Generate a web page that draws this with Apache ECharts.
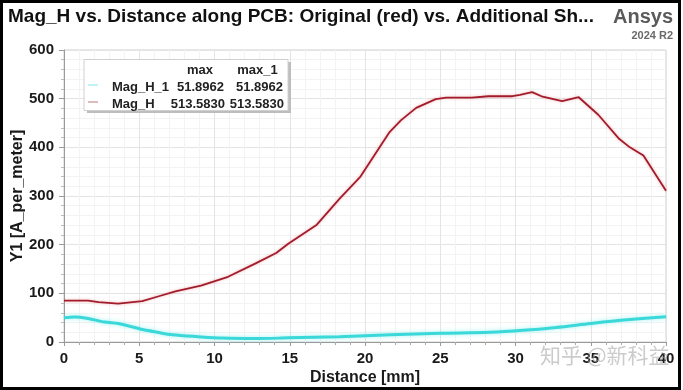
<!DOCTYPE html>
<html>
<head>
<meta charset="utf-8">
<script src="https://cdn.jsdelivr.net/npm/echarts@6/dist/echarts.min.js"></script>
<style>
html,body{margin:0;padding:0;background:#fff;}
#chart{width:683px;height:390px;}
</style>
</head>
<body>
<div id="chart"></div>
<script>
// Data
const redDistance = [0, 1.6, 2.3, 3.6, 5.2, 6.3, 7.4, 9.1, 10.9, 12.7, 14.1, 14.9, 16.8, 18.3, 19.7, 21.6, 22.4, 23.4, 24.7, 25.4, 27.1, 28.2, 29.8, 30.3, 31.1, 31.8, 33.1, 34.2, 35.5, 36.9, 37.6, 38.5, 40];
const redMagH =     [85, 85, 82, 79, 84, 94, 104, 116, 134, 161, 183, 202, 241, 294, 340, 430, 456, 481, 499, 502, 502, 505, 505, 508, 513.583, 504, 495, 503, 467, 417, 400, 383, 311];
const cyanDistance = [0, 0.7, 1.5, 2.7, 3.6, 4.3, 5.3, 6.2, 7.2, 8.9, 10.5, 12.7, 14.9, 18.3, 21.7, 25, 28.3, 30.5, 32.7, 35, 37.2, 40];
const cyanMagH =     [50, 51.5, 49, 41, 38, 33, 25, 20, 15, 11, 8, 7, 8.5, 11, 15, 18, 20, 24, 30, 38, 45, 51.8962];
const xTicks = [0, 40, 5];
const yTicks = [0, 600, 100];
const titleText = 'Mag_H vs. Distance along PCB: Original (red) vs. Additional Sh...';
const seriesNames = ['Mag_H_1', 'Mag_H'];
const legendHeaders = ['max', 'max_1'];

const FONT = '"Liberation Sans", Arial, sans-serif';
const pair = (xs, ys) => xs.map((x, i) => [x, ys[i]]);
const maxOf = a => Math.max.apply(null, a).toFixed(4);
const cyanMax = maxOf(cyanMagH), redMax = maxOf(redMagH);

const chart = echarts.init(document.getElementById('chart'));
const lbl = {fontFamily: FONT, fontWeight: 'bold', fontSize: 15, color: '#1a1a1a'};
const tcell = (txt, x, y, align) => ({type: 'text', x: x, y: y, z: 12,
  style: {text: txt, align: align, verticalAlign: 'middle', fontFamily: FONT, fontWeight: 'bold', fontSize: 13, fill: '#222'}});

chart.setOption({
  animation: false,
  backgroundColor: '#fff',
  grid: {left: 64, right: 17, top: 50, bottom: 48, outerBoundsMode: 'none', containLabel: false,
         show: true, borderColor: '#cfcfcf', borderWidth: 1},
  xAxis: {
    type: 'value', min: xTicks[0], max: xTicks[1], interval: xTicks[2],
    name: 'Distance [mm]', nameLocation: 'middle', nameGap: 28, nameMoveOverlap: false,
    nameTextStyle: {fontFamily: FONT, fontWeight: 'bold', fontSize: 16, color: '#1a1a1a'},
    axisLine: {lineStyle: {color: '#9a9a9a'}},
    axisTick: {show: true, length: 4, lineStyle: {color: '#9a9a9a'}},
    minorTick: {show: true, splitNumber: 5, length: 3, lineStyle: {color: '#aaa'}},
    axisLabel: Object.assign({margin: 9}, lbl),
    splitLine: {lineStyle: {color: '#e4e4e4'}},
    minorSplitLine: {show: true, lineStyle: {color: '#f3f3f3'}}
  },
  yAxis: {
    type: 'value', min: yTicks[0], max: yTicks[1], interval: yTicks[2],
    name: 'Y1 [A_per_meter]', nameLocation: 'middle', nameGap: 38, nameRotate: 90, nameMoveOverlap: false,
    nameTextStyle: {fontFamily: FONT, fontWeight: 'bold', fontSize: 16, color: '#1a1a1a'},
    axisLine: {show: true, lineStyle: {color: '#9a9a9a'}},
    axisTick: {show: true, length: 5, lineStyle: {color: '#9a9a9a'}},
    minorTick: {show: true, splitNumber: 5, length: 3, lineStyle: {color: '#bbb'}},
    axisLabel: Object.assign({margin: 10}, lbl),
    splitLine: {lineStyle: {color: '#e4e4e4'}},
    minorSplitLine: {show: true, splitNumber: 2, lineStyle: {color: '#f3f3f3'}}
  },
  series: [
    {
      name: seriesNames[0], type: 'line', data: pair(cyanDistance, cyanMagH),
      showSymbol: false, smooth: 0.3,
      lineStyle: {color: '#3ad8d8', width: 3, shadowColor: 'rgba(100,235,235,0.6)', shadowBlur: 4},
      z: 3
    },
    {
      name: seriesNames[1], type: 'line', data: pair(redDistance, redMagH),
      showSymbol: false,
      lineStyle: {color: '#a31c2b', width: 1.8, shadowColor: 'rgba(230,110,120,0.5)', shadowBlur: 3},
      z: 4
    }
  ],
  graphic: [
    {type: 'text', left: 8, top: 7, style: {text: titleText, fontFamily: FONT, fontWeight: 'bold', fontSize: 19, fill: '#111'}},
    {type: 'text', right: 10, top: 7, style: {text: 'Ansys', fontFamily: FONT, fontWeight: 'bold', fontSize: 20, fill: '#5a5a5a'}},
    {type: 'text', right: 10, top: 30, style: {text: '2024 R2', fontFamily: FONT, fontWeight: 'bold', fontSize: 11, fill: '#6a6a6a'}},
    // legend table
    {type: 'rect', shape: {x: 87, y: 62, width: 204, height: 51}, style: {fill: '#bdbdbd'}, z: 10},
    {type: 'rect', shape: {x: 84, y: 59.5, width: 204, height: 51}, style: {fill: '#fff', stroke: '#d0d0d0', lineWidth: 1}, z: 11},
    tcell(legendHeaders[0], 200, 70, 'center'),
    tcell(legendHeaders[1], 257.5, 70, 'center'),
    {type: 'line', shape: {x1: 88, y1: 85, x2: 98, y2: 85}, style: {stroke: '#bff3f3', lineWidth: 2}, z: 12},
    {type: 'line', shape: {x1: 88, y1: 102, x2: 98, y2: 102}, style: {stroke: '#dcbcbc', lineWidth: 2}, z: 12},
    tcell(seriesNames[0], 112, 87, 'left'),
    tcell(seriesNames[1], 112, 104, 'left'),
    tcell(cyanMax, 224, 87, 'right'),
    tcell(cyanMax, 283, 87, 'right'),
    tcell(redMax, 225, 104, 'right'),
    tcell(redMax, 284, 104, 'right'),
    // watermark
    {type: 'text', x: 540, y: 355, style: {text: '知乎 @新科益', verticalAlign: 'middle', fontFamily: '"Noto Sans CJK SC", sans-serif', fontSize: 21, fill: 'rgba(160,160,160,0.55)'}, z: 20},
    // outer frame
    {type: 'rect', shape: {x: 1.5, y: 1.5, width: 678, height: 387}, style: {fill: 'none', stroke: '#000', lineWidth: 3}, z: 30}
  ]
});
</script>
</body>
</html>
